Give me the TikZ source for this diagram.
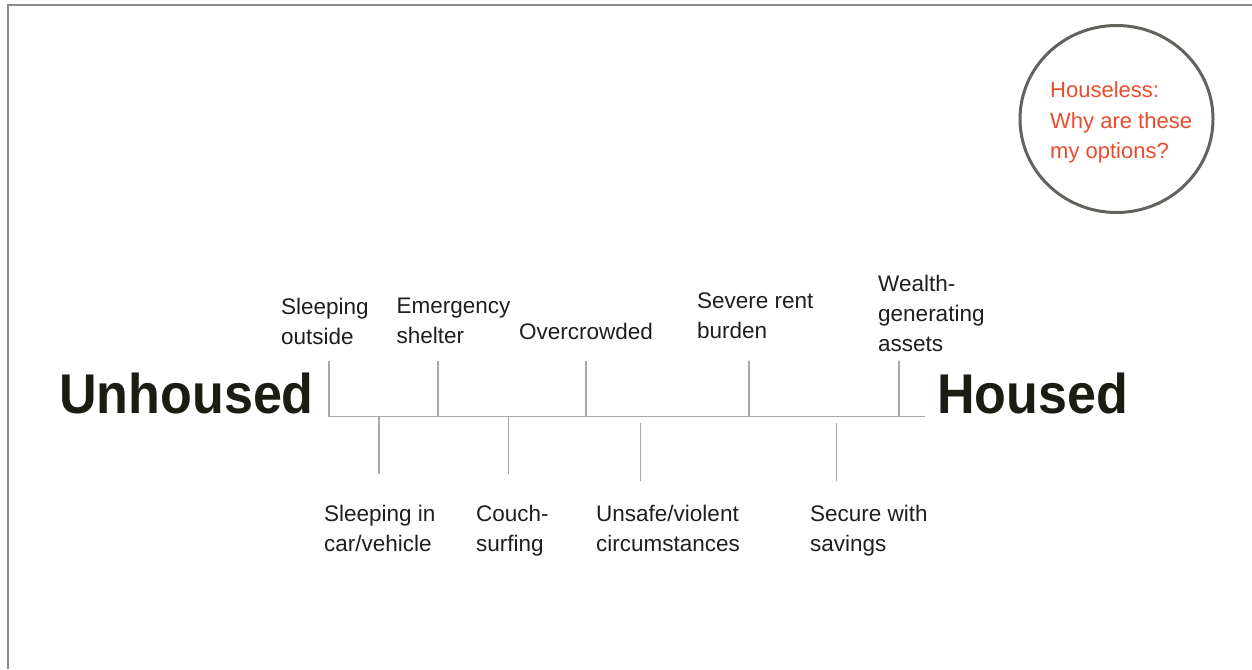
\documentclass[tikz,border=0pt]{standalone}
\usepackage{fontspec}
\setmainfont{Liberation Sans}
\definecolor{framegray}{HTML}{8A8A8A}
\definecolor{tickgray}{HTML}{A8A8A8}
\definecolor{circgray}{HTML}{63635E}
\definecolor{redtxt}{HTML}{EC4A2E}
\definecolor{darktxt}{HTML}{1C1C14}
\definecolor{labtxt}{HTML}{1E1E1E}
\begin{document}
\begin{tikzpicture}[x=1pt,y=-1pt,
  lab/.style={anchor=north west,inner sep=0pt,align=left,text=labtxt,font=\fontsize{22.5}{30}\selectfont},
  big/.style={anchor=base west,inner sep=0pt,text=darktxt,font=\fontsize{56}{60}\selectfont\bfseries,xscale=0.93,transform shape},
  tick/.style={draw=tickgray,line width=1.5pt},
  framel/.style={draw=framegray,line width=2pt}
]
\useasboundingbox (0,0) rectangle (1252,669);
% frame
\coordinate (fbl) at (8,669);
\coordinate (ftl) at (8,5);
\coordinate (ftr) at (1252,5);
\draw[framel] (fbl) -- (ftl) -- (ftr);

% big words
\node[big] (unh) at (59,413) {Unhoused};
\node[big] (hou) at (937,413) {Housed};

% axis
\coordinate (a0) at (329,416.5);
\coordinate (a1) at (925,416.5);
\draw[tick] (a0) -- (a1);

% up ticks
\coordinate (u1) at (329,361); \coordinate (u1b) at (329,416.5);
\coordinate (u2) at (438,361); \coordinate (u2b) at (438,416.5);
\coordinate (u3) at (586,361); \coordinate (u3b) at (586,416.5);
\coordinate (u4) at (749,361); \coordinate (u4b) at (749,416.5);
\coordinate (u5) at (899,361); \coordinate (u5b) at (899,416.5);
\foreach \t in {u1,u2,u3,u4,u5} \draw[tick] (\t) -- (\t b);

% down ticks
\coordinate (d1) at (379,416.5); \coordinate (d1b) at (379,474);
\coordinate (d2) at (508.5,416.5); \coordinate (d2b) at (508.5,474);
\coordinate (d3) at (640.5,423); \coordinate (d3b) at (640.5,481);
\coordinate (d4) at (836.5,423); \coordinate (d4b) at (836.5,481);
\foreach \t in {d1,d2,d3,d4} \draw[tick] (\t) -- (\t b);

% upper labels
\node[lab] (l1) at (281,298) {Sleeping\\outside};
\node[lab] (l2) at (396.5,298) {Emergency\\shelter};
\node[lab] (l3) at (519,323) {Overcrowded};
\node[lab] (l4) at (697,293) {Severe rent\\burden};
\node[lab] (l5) at (878,275) {Wealth-\\generating\\assets};

% lower labels
\node[lab] (b1) at (324,505) {Sleeping in\\car/vehicle};
\node[lab] (b2) at (476,505) {Couch-\\surfing};
\node[lab] (b3) at (596,505) {Unsafe/violent\\circumstances};
\node[lab] (b4) at (810,505) {Secure with\\savings};

% circle
\draw[draw=circgray,line width=3pt] (1116.5,119) ellipse [x radius=96.5, y radius=93.5];
\node[lab,text=redtxt,font=\fontsize{22}{30.5}\selectfont] (c1) at (1050,81.5) {Houseless:\\Why are these\\my options?};
\end{tikzpicture}
\end{document}
